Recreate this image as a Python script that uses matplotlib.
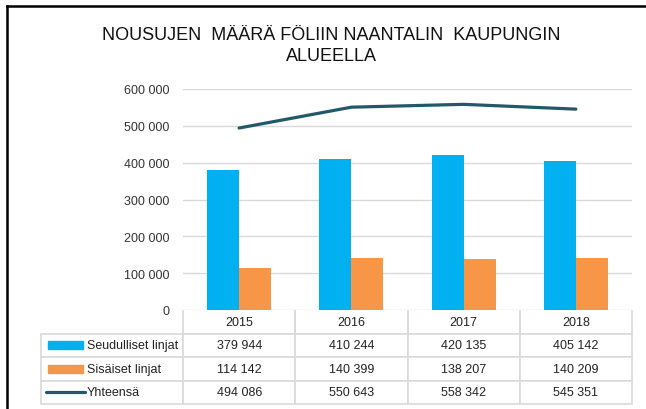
import numpy as np
import matplotlib.pyplot as plt
from matplotlib.patches import Rectangle
from matplotlib.lines import Line2D
from matplotlib.ticker import FuncFormatter

plt.rcParams['font.family'] = ['Liberation Sans', 'DejaVu Sans']

years = ['2015', '2016', '2017', '2018']
seudulliset = [379944, 410244, 420135, 405142]
sisaiset = [114142, 140399, 138207, 140209]
yhteensa = [494086, 550643, 558342, 545351]
series_names = ['Seudulliset linjat', 'Sisäiset linjat', 'Yhteensä']
title = 'NOUSUJEN  MÄÄRÄ FÖLIIN NAANTALIN  KAUPUNGIN\nALUEELLA'

blue = '#00B0F0'
orange = '#F79646'
teal = '#215968'
grid = '#D9D9D9'

W, H = 646, 410
fig = plt.figure(figsize=(W / 100, H / 100), dpi=100)

# plot area in pixels
x0, x1 = 183, 632
ytop, ybot = 90, 311
ax = fig.add_axes([x0 / W, (H - ybot) / H, (x1 - x0) / W, (ybot - ytop) / H])

x = np.arange(len(years))
bw = 32 / 112
ax.bar(x - bw / 2, seudulliset, bw, color=blue, zorder=2)
ax.bar(x + bw / 2, sisaiset, bw, color=orange, zorder=2)
ax.plot(x, yhteensa, color=teal, lw=2.3, solid_capstyle='round', zorder=3)

ax.set_xlim(-0.5, len(years) - 0.5)
ax.set_ylim(0, 600000)
ax.set_yticks(np.arange(0, 600001, 100000))
ax.yaxis.set_major_formatter(FuncFormatter(lambda v, p: f'{int(v):,}'.replace(',', ' ')))
ax.tick_params(axis='y', length=0, pad=9.5, labelsize=9, labelcolor='#333333')
ax.set_xticks([])
ax.grid(axis='y', color=grid, lw=1, zorder=0)
for s in ax.spines.values():
    s.set_visible(False)

# data table below the axis
axw = x1 - x0
axh = ybot - ytop
tl, tr, tb = 41, 632, 405
fmt = lambda v: f'{v:,}'.replace(',', ' ')
cell_text = [[series_names[i]] + [fmt(v) for v in row]
             for i, row in enumerate([seudulliset, sisaiset, yhteensa])]
tbl = ax.table(cellText=cell_text, colLabels=[''] + years,
               colWidths=[(x0 - tl) / axw] + [112 / axw] * 4,
               cellLoc='center',
               bbox=[(tl - x0) / axw, -(tb - ybot) / axh, (tr - tl) / axw, (tb - ybot) / axh])
tbl.auto_set_font_size(False)
tbl.set_fontsize(9)
for (r, c), cell in tbl.get_celld().items():
    cell.set_edgecolor(grid)
    cell.set_linewidth(1.2)
    cell.get_text().set_color('#222222')
    if r == 0 and c == 0:
        cell.visible_edges = ''
    if r == 0 and c > 0:
        cell.visible_edges = 'LRB'
    if c == 0 and r > 0:
        cell._loc = 'left'
        cell.PAD = 46 / (x0 - tl)
        cell.get_text().set_ha('left')

# legend keys in the table
row_h = (tb - ybot) / 4
for i in range(3):
    yc = ybot + row_h * (i + 1.5)
    yc_f = (H - yc) / H
    if i < 2:
        fig.patches.append(Rectangle((48 / W, yc_f - 4 / H), 35 / W, 8 / H,
                                     transform=fig.transFigure, color=[blue, orange][i]))
    else:
        fig.lines.append(Line2D([46 / W, 85 / W], [yc_f, yc_f], transform=fig.transFigure,
                                color=teal, lw=2.3, solid_capstyle='round'))

fig.text(331 / W, 1 - 46 / H, title, ha='center', va='center', fontsize=13,
         linespacing=1.35, color='#111111')

# outer frame (left and top)
fig.lines.append(Line2D([7 / W, 7 / W], [0, 1 - 7 / H], transform=fig.transFigure, color='black', lw=1.8))
fig.lines.append(Line2D([7 / W, 1], [1 - 7 / H, 1 - 7 / H], transform=fig.transFigure, color='black', lw=1.8))

fig.savefig('out.png', dpi=100)
